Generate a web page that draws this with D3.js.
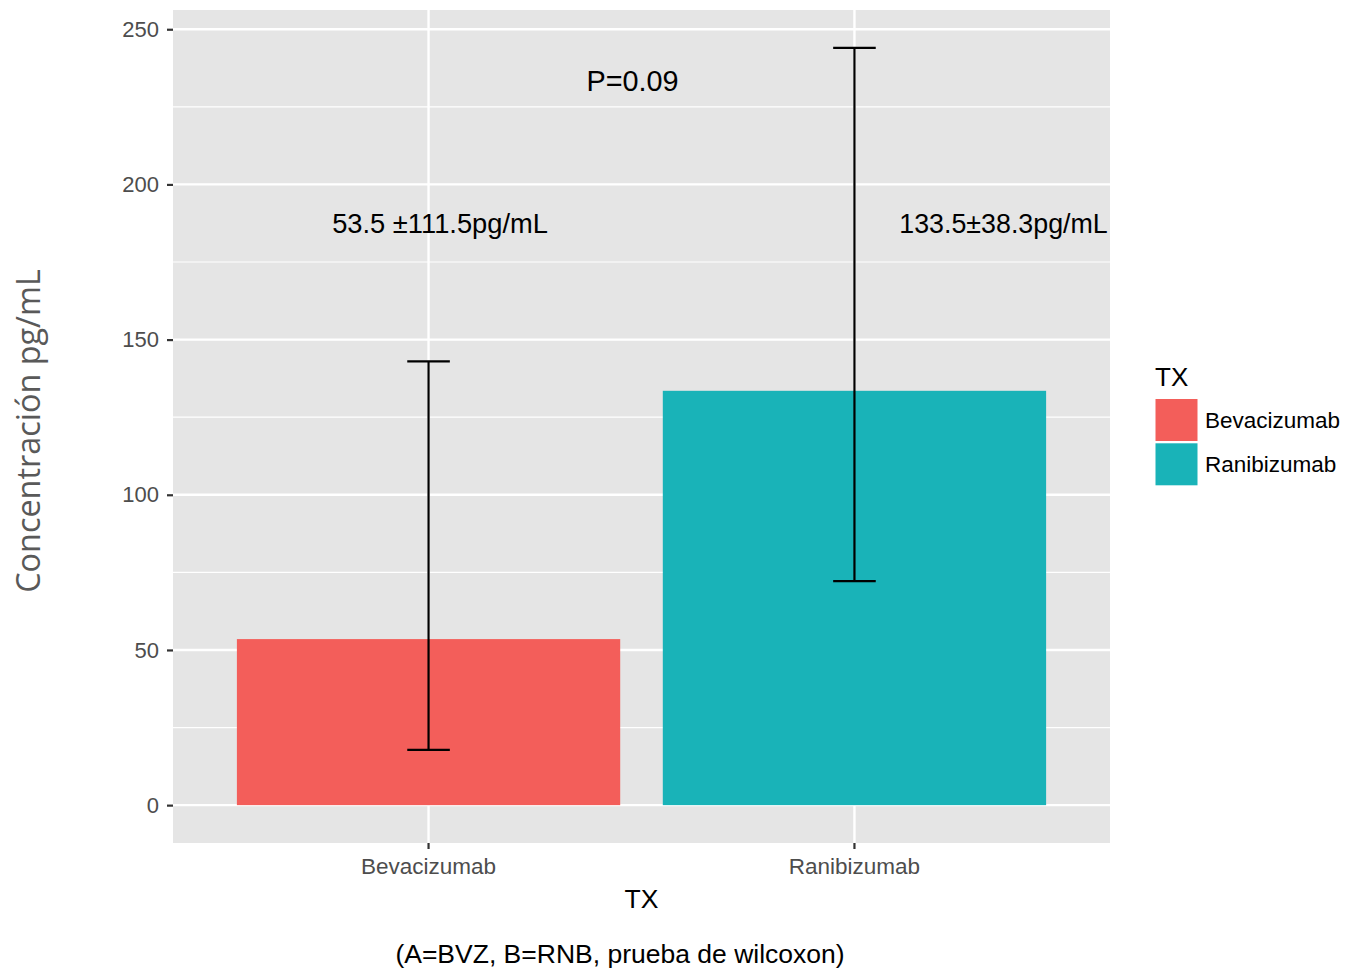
<!DOCTYPE html>
<html><head><meta charset="utf-8">
<script src="https://cdn.jsdelivr.net/npm/d3@7"></script>
<style>body{margin:0;background:#fff;} svg{display:block;}</style>
</head><body>
<svg id="c" width="1346" height="970"></svg>
<script>
const categories = ["Bevacizumab", "Ranibizumab"];
const means = [53.5, 133.5];
const lowers = [17.8, 72.2];
const uppers = [143.0, 244.0];
const barColors = ["#F35E5A", "#19B3B8"];
const yTicks = [0, 50, 100, 150, 200, 250];
const yMinor = [25, 75, 125, 175, 225];
const annotations = [
  {text: "53.5 \u00b1111.5pg/mL", x: 1.027, y: 187.5, size: 27.3},
  {text: "133.5\u00b138.3pg/mL", x: 2.35, y: 187.5, size: 26.8},
  {text: "P=0.09", x: 1.479, y: 233.4, size: 28.8}
];

const svg = d3.select("#c");
const L = 173, R = 1110, T = 10, B = 843;
const yMax = d3.max(uppers), yMin = 0;
const pad = (yMax - yMin) * 0.05;
const y = d3.scaleLinear().domain([yMin - pad, yMax + pad]).range([B, T]);
const xc = d3.scaleLinear().domain([0.4, 2.6]).range([L, R]);
const font = "'Liberation Sans', Arial, sans-serif";

svg.append("rect").attr("x", L).attr("y", T).attr("width", R - L).attr("height", B - T).attr("fill", "#E5E5E5");
svg.selectAll(".ymin").data(yMinor).enter().append("line")
  .attr("x1", L).attr("x2", R).attr("y1", d => y(d)).attr("y2", d => y(d))
  .attr("stroke", "#fff").attr("stroke-width", 1.2);
svg.selectAll(".ymaj").data(yTicks).enter().append("line")
  .attr("x1", L).attr("x2", R).attr("y1", d => y(d)).attr("y2", d => y(d))
  .attr("stroke", "#fff").attr("stroke-width", 2.4);
svg.selectAll(".xmaj").data(categories).enter().append("line")
  .attr("x1", (d, i) => xc(i + 1)).attr("x2", (d, i) => xc(i + 1)).attr("y1", T).attr("y2", B)
  .attr("stroke", "#fff").attr("stroke-width", 2.4);

svg.selectAll(".bar").data(means).enter().append("rect")
  .attr("x", (d, i) => xc(i + 1 - 0.45)).attr("width", (d, i) => xc(i + 1 + 0.45) - xc(i + 1 - 0.45))
  .attr("y", d => y(d)).attr("height", d => y(0) - y(d))
  .attr("fill", (d, i) => barColors[i]);

const eb = svg.append("g").attr("stroke", "#000").attr("stroke-width", 2.2);
categories.forEach((c, i) => {
  const cx = xc(i + 1), hw = xc(0.05) - xc(0);
  eb.append("line").attr("x1", cx).attr("x2", cx).attr("y1", y(lowers[i])).attr("y2", y(uppers[i]));
  eb.append("line").attr("x1", cx - hw).attr("x2", cx + hw).attr("y1", y(lowers[i])).attr("y2", y(lowers[i]));
  eb.append("line").attr("x1", cx - hw).attr("x2", cx + hw).attr("y1", y(uppers[i])).attr("y2", y(uppers[i]));
});

svg.selectAll(".ann").data(annotations).enter().append("text")
  .attr("x", d => xc(d.x)).attr("y", d => y(d.y) + 10)
  .attr("text-anchor", "middle").attr("font-family", font).attr("font-size", d => d.size).attr("fill", "#000")
  .text(d => d.text);

const yAxis = d3.axisLeft(y).tickValues(yTicks).tickSize(6).tickPadding(8);
const gy = svg.append("g").attr("transform", `translate(${L},0)`).call(yAxis);
gy.select(".domain").remove();
gy.selectAll(".tick line").attr("stroke", "#333").attr("stroke-width", 2.2);
gy.selectAll(".tick text").attr("font-family", font).attr("font-size", 22).attr("fill", "#4D4D4D");

const xb = d3.scaleBand().domain(categories).range([xc(0.5), xc(2.5)]);
const xAxis = d3.axisBottom(xb).tickSize(6).tickPadding(9);
const gx = svg.append("g").attr("transform", `translate(0,${B})`).call(xAxis);
gx.select(".domain").remove();
gx.selectAll(".tick line").attr("stroke", "#333").attr("stroke-width", 2.2);
gx.selectAll(".tick text").attr("font-family", font).attr("font-size", 22.5).attr("fill", "#4D4D4D");

svg.append("text").attr("x", (L + R) / 2).attr("y", 908).attr("text-anchor", "middle")
  .attr("font-family", font).attr("font-size", 26.5).attr("fill", "#000").text("TX");
svg.append("text").attr("x", 620).attr("y", 963).attr("text-anchor", "middle")
  .attr("font-family", font).attr("font-size", 26.5).attr("fill", "#000").text("(A=BVZ, B=RNB, prueba de wilcoxon)");
svg.append("text").attr("transform", "translate(40,431) rotate(-90)").attr("text-anchor", "middle")
  .attr("font-family", "'Open Sans', sans-serif").attr("font-size", 32.4).attr("fill", "#595959")
  .text("Concentración pg/mL");

const lg = svg.append("g");
lg.append("text").attr("x", 1155).attr("y", 386).attr("font-family", font).attr("font-size", 26)
  .attr("fill", "#000").text("TX");
categories.forEach((c, i) => {
  lg.append("rect").attr("x", 1155.5).attr("y", 399 + i * 44.3).attr("width", 42).attr("height", 42)
    .attr("fill", barColors[i]);
  lg.append("text").attr("x", 1205).attr("y", 428 + i * 44.3).attr("font-family", font)
    .attr("font-size", 22.5).attr("fill", "#000").text(c);
});
</script>
</body></html>
